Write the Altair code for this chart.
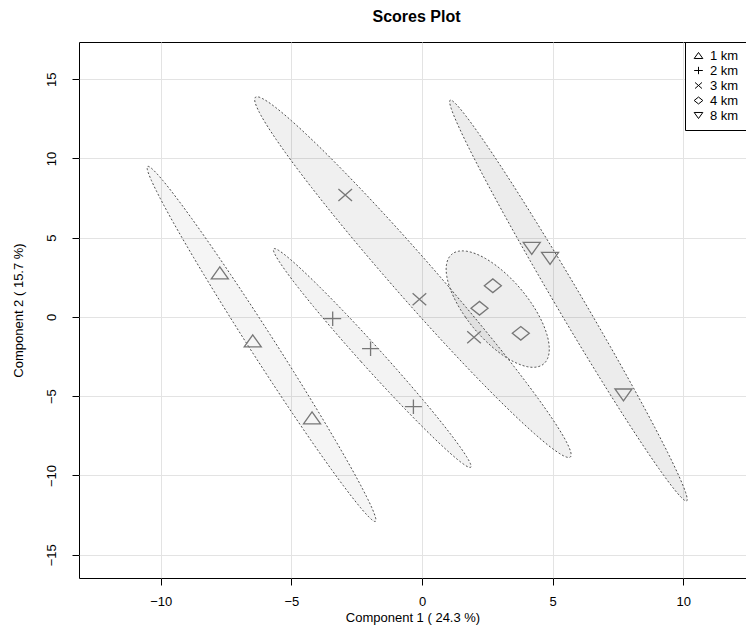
import numpy as np
import pandas as pd
import altair as alt

# ---- data ----
groups = ["1 km", "2 km", "3 km", "4 km", "8 km"]
sample_group = ["1 km"] * 3 + ["2 km"] * 3 + ["3 km"] * 3 + ["4 km"] * 3 + ["8 km"] * 3
comp1 = [-7.74, -6.48, -4.21, -3.42, -1.97, -0.33, -2.94, -0.10, 1.99,
         2.71, 2.20, 3.78, 4.20, 4.90, 7.71]
comp2 = [2.78, -1.51, -6.37, -0.11, -2.00, -5.66, 7.70, 1.12, -1.28,
         1.97, 0.55, -1.03, 4.33, 3.70, -4.92]
x_ticks = [-10, -5, 0, 5, 10]
y_ticks = [-15, -10, -5, 0, 5, 10, 15]

pts = pd.DataFrame({"group": sample_group, "c1": comp1, "c2": comp2})

# ---- 95% confidence ellipses computed from each group's points ----
level_radius = np.sqrt(-2.0 * np.log(1 - 0.95))  # sqrt(chi2_2(0.95))
t = np.linspace(0, 2 * np.pi, 181)
rows = []
for g in groups:
    sub = pts[pts.group == g][["c1", "c2"]].to_numpy()
    mu = sub.mean(axis=0)
    cov = np.cov(sub.T)
    vals, vecs = np.linalg.eigh(cov)
    circle = np.vstack([np.cos(t), np.sin(t)])
    ell = (vecs @ np.diag(np.sqrt(vals)) @ circle) * level_radius + mu[:, None]
    for i in range(ell.shape[1]):
        rows.append({"group": g, "i": i, "c1": ell[0, i], "c2": ell[1, i]})
ell_df = pd.DataFrame(rows)

FONT = "Liberation Sans"
x_scale = alt.Scale(domain=[-13.13, 12.40], nice=False, zero=False)
y_scale = alt.Scale(domain=[-16.47, 17.35], nice=False, zero=False)

x_axis = alt.Axis(values=x_ticks, title="Component 1 ( 24.3 %)", domain=False,
                  tickSize=7, tickColor="black", labelFontSize=13, labelPadding=10,
                  labelColor="black", labelFont=FONT, grid=True, gridColor="#e3e3e3",
                  titleFont=FONT, titleFontSize=13, titleFontWeight="normal",
                  titleColor="black", titleY=39, titleBaseline="middle")
y_axis = alt.Axis(values=y_ticks, title="Component 2 ( 15.7 %)", domain=False,
                  tickSize=7, tickColor="black", labelFontSize=13, labelPadding=14,
                  labelAngle=270, labelAlign="center", labelBaseline="bottom",
                  labelColor="black", labelFont=FONT, grid=True, gridColor="#e3e3e3",
                  titleFont=FONT, titleFontSize=13, titleFontWeight="normal",
                  titleColor="black", titleX=-61, titleY=268, titleAngle=270,
                  titleAlign="center", titleBaseline="middle")

ellipses = alt.Chart(ell_df).mark_line(
    fill="black", stroke="#4d4d4d", strokeWidth=1, strokeDash=[2, 2]
).encode(
    x=alt.X("c1:Q", scale=x_scale, axis=x_axis),
    y=alt.Y("c2:Q", scale=y_scale, axis=y_axis),
    detail="group:N",
    order="i:Q",
    fillOpacity=alt.FillOpacity("group:N", scale=alt.Scale(
        domain=groups, range=[0.04, 0.075, 0.10, 0.12, 0.17]), legend=None),
)

shape_paths = [
    "M0,-0.7L1,0.7L-1,0.7Z",                     # triangle up
    "M-1,0L1,0M0,-0.85L0,0.85",                  # plus
    "M-0.8,-0.7L0.8,0.7M-0.8,0.7L0.8,-0.7",      # x
    "M-1,0L0,-0.8L1,0L0,0.8Z",                   # diamond
    "M0,0.7L1,-0.7L-1,-0.7Z",                    # triangle down
]

points = alt.Chart(pts).mark_point(
    filled=False, stroke="#777777", strokeWidth=1.3, size=290, opacity=1
).encode(
    x="c1:Q",
    y="c2:Q",
    shape=alt.Shape("group:N", scale=alt.Scale(domain=groups, range=shape_paths),
                    legend=alt.Legend(title=None, orient="top-right", offset=0,
                                      strokeColor="black", fillColor="white",
                                      padding=7, symbolSize=75, symbolStrokeWidth=1,
                                      symbolStrokeColor="black", labelFontSize=13,
                                      labelFont=FONT, labelColor="black",
                                      rowPadding=1, labelOffset=5)),
)

chart = alt.layer(ellipses, points).properties(
    width=667, height=536,
    title=alt.TitleParams("Scores Plot", font=FONT, fontSize=16, fontWeight="bold",
                          color="black", offset=17, anchor="middle", dx=4),
    padding={"left": 71, "top": 34, "right": 0, "bottom": 50},
    autosize=alt.AutoSizeParams(type="none"),
).configure_view(stroke="black", strokeWidth=1)

chart.save("out.html", embed_options={"renderer": "svg", "actions": False})
